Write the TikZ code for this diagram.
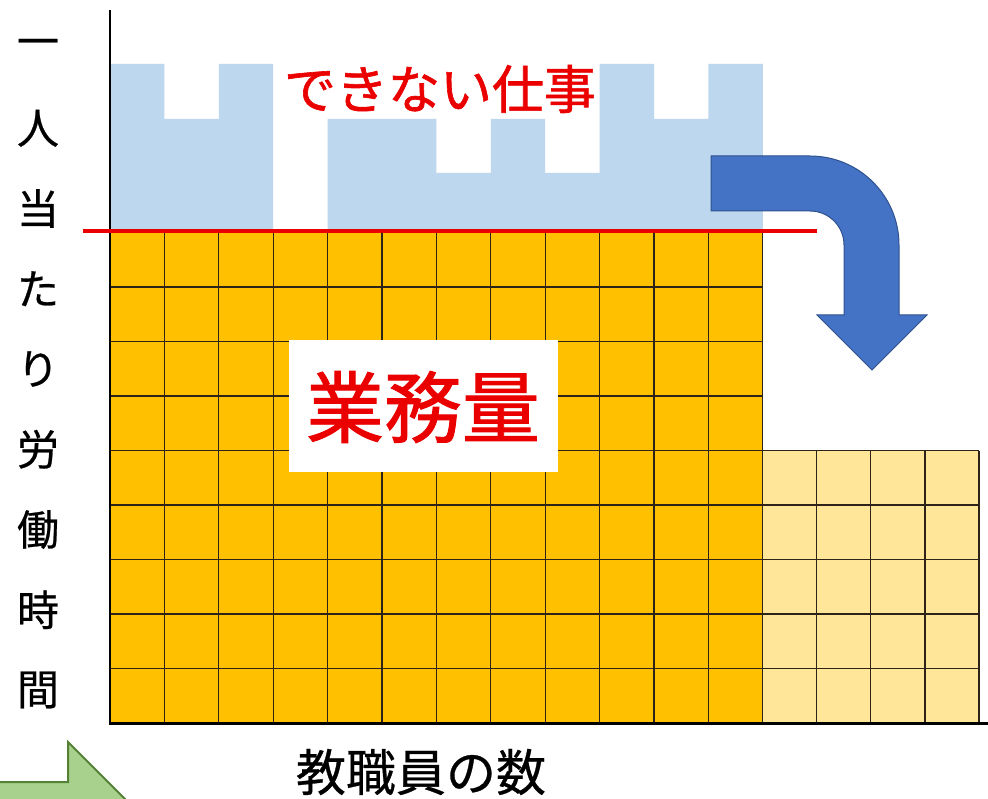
\documentclass[tikz,border=0pt]{standalone}
\usepackage{fontspec}
\newfontfamily\jp{Noto Sans CJK JP}
\newfontfamily\jpb[FakeBold=1.2]{Noto Sans CJK JP}
\newfontfamily\jpm[FakeBold=0.6]{Noto Sans CJK JP}
\definecolor{bluebg}{RGB}{189,215,238}
\definecolor{orangec}{RGB}{255,192,0}
\definecolor{lightc}{RGB}{255,230,153}
\definecolor{gridc}{RGB}{45,35,25}
\definecolor{arrowfill}{RGB}{68,114,196}
\definecolor{arrowdraw}{RGB}{47,82,143}
\definecolor{greenfill}{RGB}{169,209,142}
\definecolor{greendraw}{RGB}{84,130,53}
\definecolor{redc}{RGB}{235,0,0}
\tikzset{
  gridline/.style={draw=gridc, line width=1.1pt},
  vchar/.style={font=\jpm\fontsize{42}{50}\selectfont, inner sep=0pt},
}
\begin{document}
\begin{tikzpicture}[x=1pt,y=-1pt]
\useasboundingbox (0,0) rectangle (988,799);
\clip (0,0) rectangle (988,799);
\fill[white] (0,0) rectangle (988,799);
% light blue "cannot do" work
\fill[bluebg] (110,232) -- (110,64) -- (164.4,64) -- (164.4,119) -- (218.8,119) -- (218.8,64) -- (273.2,64) -- (273.2,232) -- cycle;
\fill[bluebg] (327.6,232) -- (327.6,119) -- (436.4,119) -- (436.4,173) -- (490.8,173) -- (490.8,119) -- (545.2,119) -- (545.2,173) -- (599.6,173) -- (599.6,64) -- (654,64) -- (654,119) -- (708.4,119) -- (708.4,64) -- (762.8,64) -- (762.8,232) -- cycle;
% orange grid
\fill[orangec] (110,232.5) rectangle (762.8,723);
\foreach \i in {1,...,12} {\draw[gridline] (110+54.4*\i,232.5) -- (110+54.4*\i,723);}
\foreach \j in {1,...,8} {\draw[gridline] (110,232.5+54.5*\j) -- (762.8,232.5+54.5*\j);}
% light grid
\fill[lightc] (762.8,450.5) rectangle (979,723);
\foreach \i in {1,...,4} {\draw[gridline] (762.8+54.05*\i,450.5) -- (762.8+54.05*\i,723);}
\foreach \j in {4,...,8} {\draw[gridline] (762.8,232.5+54.5*\j) -- (979,232.5+54.5*\j);}
% axes
\draw[line width=2pt] (110,10) -- (110,723);
\draw[line width=3pt] (109,723) -- (988,723);
% red line
\draw[redc, line width=3.5pt] (83,231) -- (817,231);
% blue curved arrow
\fill[arrowfill, draw=arrowdraw, line width=1pt] (711,156) -- (810,156) .. controls (859.2,156) and (899,195.8) .. (899,245) -- (899,315) -- (927,315) -- (872,370) -- (817,315) -- (844,315) -- (844,245) .. controls (844,226.2) and (828.8,211) .. (810,211) -- (711,211) -- cycle;
% green arrow (cut off)
\fill[greenfill, draw=greendraw, line width=2pt] (-5,782) -- (68,782) -- (68,742) -- (140,814) -- (68,886) -- (68,846) -- (-5,846) -- cycle;
% texts
\node[font=\jpb\fontsize{52}{60}\selectfont, text=redc, inner sep=0pt] (cannot) at (440,89) {できない仕事};
\node[fill=white, minimum width=269pt, minimum height=132pt, inner sep=0pt] (box) at (423.5,406) {};
\node[font=\jpb\fontsize{78}{90}\selectfont, text=redc, inner sep=0pt] (work) at (423,407) {業務量};
\node[font=\jpm\fontsize{50}{60}\selectfont, inner sep=0pt] (xlabel) at (421,772) {教職員の数};
\foreach \c [count=\k] in {一,人,当,た,り,労,働,時,間} {
  \node[vchar] (v\k) at (38,48+80.25*\k-80.25) {\c};
}
\end{tikzpicture}
\end{document}
